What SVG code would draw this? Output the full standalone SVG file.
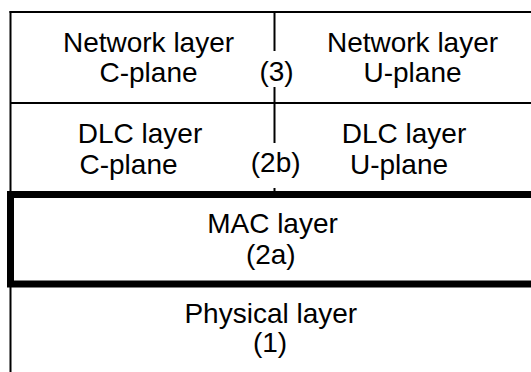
<svg xmlns="http://www.w3.org/2000/svg" width="531" height="372" viewBox="0 0 531 372">
<style>
  .ln{stroke:#000;stroke-width:2;fill:none}
  .thick{stroke:#000;stroke-width:7;fill:none}
  .t{font-family:"Liberation Sans",Arial,sans-serif;font-size:28px;fill:#000;text-anchor:middle}
  .bg{fill:#fff;stroke:none}
</style>
<rect width="531" height="372" fill="#fff"/>
<g id="connectors">
  <line class="ln" x1="9.5" y1="12" x2="531" y2="12"/>
  <line class="ln" x1="10.5" y1="11" x2="10.5" y2="372"/>
  <line class="ln" x1="10.5" y1="103" x2="531" y2="103"/>
  <line class="ln" x1="274.5" y1="12" x2="274.5" y2="194"/>
</g>
<g id="network-c">
  <text class="t" x="148.5" y="52">Network layer</text>
  <text class="t" x="148.5" y="82">C-plane</text>
</g>
<g id="network-u">
  <text class="t" x="412.5" y="52">Network layer</text>
  <text class="t" x="412.5" y="82">U-plane</text>
</g>
<g id="label-3">
  <rect class="bg" x="260" y="51" width="32" height="36"/>
  <text class="t" x="276.5" y="81">(3)</text>
</g>
<g id="dlc-c">
  <text class="t" x="140" y="143">DLC layer</text>
  <text class="t" x="128.5" y="174">C-plane</text>
</g>
<g id="dlc-u">
  <text class="t" x="404" y="143">DLC layer</text>
  <text class="t" x="399" y="174">U-plane</text>
</g>
<g id="label-2b">
  <rect class="bg" x="253" y="143" width="45" height="45"/>
  <text class="t" x="275.7" y="172">(2b)</text>
</g>
<g id="mac">
  <rect class="thick" x="10.5" y="194.5" width="600" height="89.5"/>
  <text class="t" x="272.5" y="233">MAC layer</text>
  <text class="t" x="270.8" y="264">(2a)</text>
</g>
<g id="physical">
  <text class="t" x="270.8" y="323">Physical layer</text>
  <text class="t" x="270" y="352">(1)</text>
</g>
</svg>
